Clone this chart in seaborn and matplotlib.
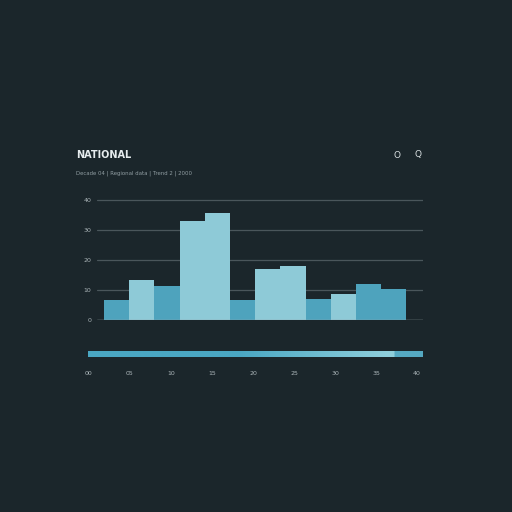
import matplotlib
matplotlib.use("Agg")
import matplotlib.pyplot as plt
import seaborn as sns
import numpy as np
import pandas as pd

# ---- data ----
categories = ["A1", "A2", "A3", "B1", "B2", "B3", "C1", "C2", "C3", "D1", "D2", "D3"]
values = [6.7, 13.3, 11.3, 33.0, 35.7, 6.7, 17.0, 18.0, 7.0, 8.7, 12.0, 10.3]
tones = ["dark", "light", "dark", "light", "light", "dark", "light", "light", "dark", "light", "dark", "dark"]
y_ticks = [0, 10, 20, 30, 40]
y_tick_labels = ["0", "10", "20", "30", "40"]
range_labels = ["00", "05", "10", "15", "20", "25", "30", "35", "40"]
title = "NATIONAL"
subtitle = "Decade 04 | Regional data | Trend 2 | 2000"

BG = "#1b262b"
DARK = "#4ea3bd"
LIGHT = "#8ecad7"
GRID = "#4a565b"
TEXT = "#aab4b8"

sns.set_theme(style="dark")
plt.rcParams['font.family'] = ['DejaVu Sans']

fig = plt.figure(figsize=(5.12, 5.12), dpi=100, facecolor=BG)

ax = fig.add_axes([97/512, 1-320/512, 326/512, 121.5/512])
ax.set_facecolor(BG)
df = pd.DataFrame({"cat": categories, "val": values})
pal = {c: (DARK if t == "dark" else LIGHT) for c, t in zip(categories, tones)}
sns.barplot(data=df, x="cat", y="val", hue="cat", palette=pal, legend=False,
            width=1.0, saturation=1, linewidth=0, ax=ax, zorder=3)
ax.set_xlim(-0.78, 12.16)
ax.set_ylim(0, 40.5)
ax.set_yticks(y_ticks)
ax.set_yticklabels(y_tick_labels, fontsize=4.5, color=TEXT)
ax.set_xticks([])
ax.set_xlabel("")
ax.set_ylabel("")
for y in y_ticks[1:]:
    ax.axhline(y, color=GRID, lw=0.9, zorder=1)
ax.axhline(0, color="#9aa6aa", lw=1.0, zorder=4)
for s in ax.spines.values():
    s.set_visible(False)
ax.tick_params(axis="y", length=0, pad=4)
ax.grid(False)

# range slider
ax2 = fig.add_axes([88/512, 1-357/512, 335/512, 6/512])
ax2.set_facecolor(BG)
n = 400
xs = np.linspace(0, 1, n)
c0 = np.array([0x4a, 0xa7, 0xc3]) / 255
c1 = np.array([0x8f, 0xcf, 0xdc]) / 255
t = np.clip((xs - 0.45) / 0.45, 0, 1)
grad = (c0[None, :] * (1 - t[:, None]) + c1[None, :] * t[:, None])
grad[xs > 0.915] = np.array([0x55, 0xa9, 0xc2]) / 255
ax2.imshow(grad[None, :, :], aspect="auto", extent=(-0.024, 8.146, 0, 1))
ax2.set_xlim(-0.024, 8.146)
ax2.set_ylim(0, 1)
ax2.set_yticks([])
ax2.set_xticks(range(len(range_labels)))
ax2.set_xticklabels(range_labels, fontsize=4.5, color=TEXT)
ax2.tick_params(axis="x", length=0, pad=10)
for s in ax2.spines.values():
    s.set_visible(False)

fig.text(76/512, 1-155/512, title, fontsize=7, color="#e6ecee", va="center", ha="left",
         fontweight="semibold")
fig.text(76/512, 1-173/512, subtitle, fontsize=3.9, color="#8f9ca1", va="center", ha="left")
fig.text(397/512, 1-155/512, "O", fontsize=6.5, color="#d8dfe1", va="center", ha="center")
fig.text(418/512, 1-155/512, "Q", fontsize=6.5, color="#d8dfe1", va="center", ha="center")

fig.savefig("out.png", dpi=100, facecolor=BG)
